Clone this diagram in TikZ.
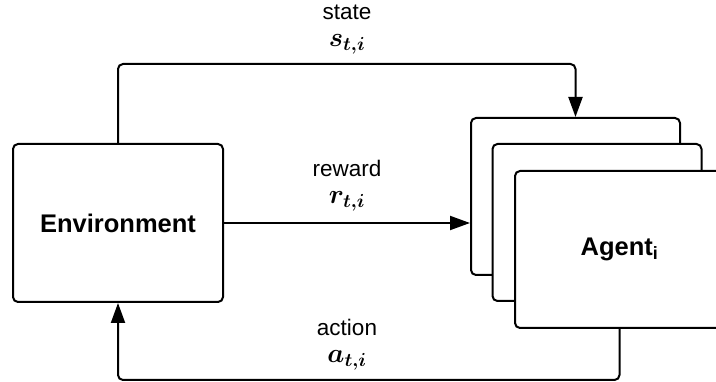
\RequirePackage{fix-cm}
\documentclass[tikz,border=0pt]{standalone}
\usepackage{fontspec}
\setmainfont{Liberation Sans}
\usepackage{bm}
\usetikzlibrary{arrows.meta,positioning}
\newcommand{\sym}[1]{{\fontsize{27}{27}\selectfont$\bm{#1}$}}

\begin{document}
\begin{tikzpicture}[
  x=1pt, y=-1pt,
  >={Triangle[length=20pt,width=14pt]},
  line width=2pt,
  box/.style={rectangle, draw, fill=white, rounded corners=5pt, minimum width=209pt, minimum height=157pt, font=\fontsize{25.5}{30}\selectfont\bfseries},
  link/.style={->, draw, rounded corners=5pt},
  lbl/.style={align=center, font=\fontsize{22.5}{27}\selectfont}
]
  \useasboundingbox (0,0) rectangle (716,382);
  \node[box, minimum width=210pt, minimum height=158pt] (env) at (118,223) {Environment};
  \node[box] (agent3) at (575.5,196.5) {};
  \node[box] (agent2) at (597,222.5) {};
  \node[box] (agent1) at (619.5,249.5) {Agent\textsubscript{i}};
  \draw[link] (env.north) -- ++(0,-79) -| (agent3.north);
  \draw[link] (env.east) -- (env.east -| agent3.west);
  \draw[link] (agent1.south) -- ++(0,51) -| (env.south);
  \node[lbl] (statelbl) at (347,30) {state\\\sym{s_{t,i}}};
  \node[lbl] (rewardlbl) at (347,186) {reward\\\sym{r_{t,i}}};
  \node[lbl] (actionlbl) at (347,345) {action\\\sym{a_{t,i}}};
\end{tikzpicture}
\end{document}
